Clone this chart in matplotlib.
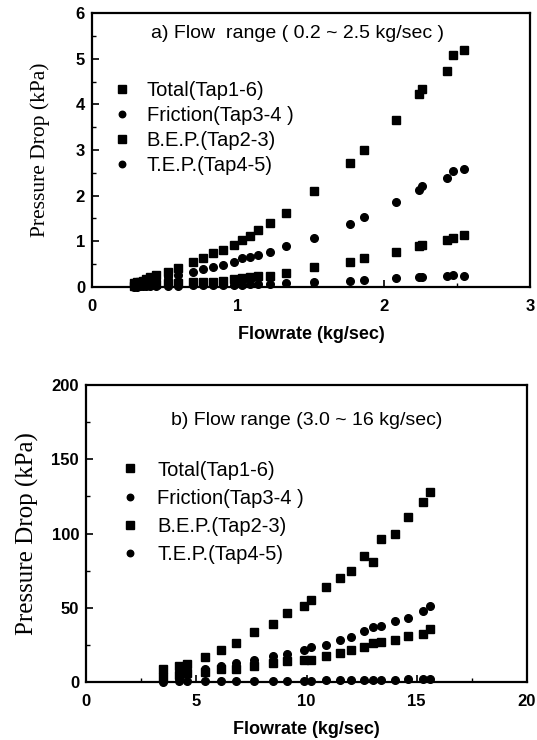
import matplotlib
matplotlib.use("Agg")
import matplotlib.pyplot as plt
from matplotlib.ticker import MultipleLocator

# ---------------- data: panel a ----------------
flow_a = [0.29, 0.31, 0.33, 0.35, 0.37, 0.40, 0.44, 0.52, 0.59, 0.69, 0.76, 0.83,
          0.90, 0.97, 1.03, 1.08, 1.14, 1.22, 1.33, 1.52, 1.77, 1.86, 2.08, 2.24,
          2.26, 2.43, 2.47, 2.55]
total_a = [0.08, 0.10, 0.12, 0.14, 0.17, 0.21, 0.26, 0.33, 0.41, 0.54, 0.64, 0.74,
           0.82, 0.92, 1.03, 1.12, 1.24, 1.40, 1.62, 2.10, 2.71, 3.01, 3.65, 4.23,
           4.34, 4.74, 5.07, 5.19]
friction_a = [0.04, 0.05, 0.06, 0.07, 0.09, 0.11, 0.16, 0.22, 0.26, 0.33, 0.39, 0.43,
              0.48, 0.55, 0.63, 0.66, 0.70, 0.77, 0.90, 1.08, 1.39, 1.54, 1.86, 2.12,
              2.21, 2.39, 2.55, 2.59]
bep_a = [0.03, 0.04, 0.05, 0.05, 0.06, 0.07, 0.07, 0.08, 0.09, 0.10, 0.11, 0.12,
         0.14, 0.17, 0.19, 0.22, 0.24, 0.24, 0.31, 0.43, 0.55, 0.63, 0.76, 0.90,
         0.92, 1.04, 1.07, 1.14]
tep_a = [0.01, 0.01, 0.02, 0.02, 0.02, 0.02, 0.03, 0.03, 0.03, 0.04, 0.04, 0.04,
         0.05, 0.05, 0.05, 0.06, 0.06, 0.07, 0.08, 0.10, 0.13, 0.16, 0.20, 0.22,
         0.22, 0.23, 0.26, 0.24]

# ---------------- data: panel b ----------------
flow_b = [3.5, 4.2, 4.6, 5.4, 6.1, 6.8, 7.6, 8.5, 9.1, 9.9, 10.2, 10.9, 11.5, 12.0,
          12.6, 13.0, 13.4, 14.0, 14.6, 15.3, 15.6]
total_b = [8.5, 11, 12, 17, 21.5, 26, 34, 39, 46.5, 51, 55, 64, 70, 75, 85, 81, 96,
           100, 111, 121, 128]
friction_b = [4.5, 6, 7, 8.5, 10.7, 13, 15, 17.5, 19, 21.5, 23.7, 25, 28.6, 30, 34.5,
              37, 38, 41, 43, 48, 51]
bep_b = [3.5, 5, 6.3, 6.5, 8.5, 9, 11, 12.5, 14.3, 14.8, 15, 17.5, 19.7, 21.5, 23.7,
         26, 27, 28.6, 31, 32.6, 36]
tep_b = [0.3, 0.4, 0.5, 0.5, 0.6, 0.7, 0.8, 0.8, 0.9, 1.0, 1.0, 1.1, 1.2, 1.2, 1.3,
         1.4, 1.4, 1.5, 1.7, 1.8, 2.0]

labels = ["Total(Tap1-6)", "Friction(Tap3-4 )", "B.E.P.(Tap2-3)", "T.E.P.(Tap4-5)"]
title_a = "a) Flow  range ( 0.2 ~ 2.5 kg/sec )"
title_b = "b) Flow range (3.0 ~ 16 kg/sec)"
xlabel = "Flowrate (kg/sec)"
ylabel = "Pressure Drop (kPa)"

SANS = "Liberation Sans"
SERIF = "Liberation Serif"

fig = plt.figure(figsize=(5.37, 7.40), dpi=100)
ax1 = fig.add_axes([92/537, 1-287/740, (530-92)/537, (287-13)/740])
ax2 = fig.add_axes([86/537, 1-682/740, (527-86)/537, (682-385)/740])


def style(ax, xmaj, xmin, ymaj, ymin, ylab_x, ylab_size):
    ax.xaxis.set_major_locator(MultipleLocator(xmaj))
    ax.xaxis.set_minor_locator(MultipleLocator(xmin))
    ax.yaxis.set_major_locator(MultipleLocator(ymaj))
    ax.yaxis.set_minor_locator(MultipleLocator(ymin))
    ax.tick_params(which="both", direction="in", top=False, right=False)
    ax.tick_params(which="major", length=5, width=1.2, labelsize=12)
    ax.tick_params(axis="x", which="major", pad=9)
    ax.tick_params(axis="y", which="major", pad=5)
    ax.tick_params(which="minor", length=3, width=1.0)
    for s in ax.spines.values():
        s.set_linewidth(1.6)
    for lab in ax.get_xticklabels() + ax.get_yticklabels():
        lab.set_fontfamily(SANS)
        lab.set_fontweight("bold")
    ax.set_xlabel(xlabel, fontfamily=SANS, fontsize=13, fontweight="bold", labelpad=8)
    ax.set_ylabel(ylabel, fontfamily=SERIF, fontsize=ylab_size)
    ax.yaxis.set_label_coords(ylab_x, 0.5)


def plot_series(ax, flow, tot, fr, bep, tep):
    ax.plot(flow, tot, "s", color="black", ms=6.3, label=labels[0], clip_on=False)
    ax.plot(flow, fr, "o", color="black", ms=5.5, label=labels[1], clip_on=False)
    ax.plot(flow, bep, "s", color="black", ms=6.3, label=labels[2], clip_on=False)
    ax.plot(flow, tep, "o", color="black", ms=5.5, label=labels[3], clip_on=False)


plot_series(ax1, flow_a, total_a, friction_a, bep_a, tep_a)
ax1.set_xlim(0, 3)
ax1.set_ylim(0, 6)
style(ax1, 1, 0.5, 1, 0.5, -0.095, 15.5)
ax1.text(0.47, 0.925, title_a, transform=ax1.transAxes, ha="center", va="center",
         fontfamily=SANS, fontsize=14)
ax1.legend(loc="upper left", bbox_to_anchor=(0.008, 0.81), frameon=False,
           handlelength=1.0, handletextpad=0.75, labelspacing=0.30, borderpad=0.3,
           prop={"family": SANS, "size": 14.5}, markerscale=0.85)

plot_series(ax2, flow_b, total_b, friction_b, bep_b, tep_b)
ax2.set_xlim(0, 20)
ax2.set_ylim(0, 200)
style(ax2, 5, 2.5, 50, 25, -0.107, 18)
ax2.text(0.50, 0.88, title_b, transform=ax2.transAxes, ha="center", va="center",
         fontfamily=SANS, fontsize=14)
ax2.legend(loc="upper left", bbox_to_anchor=(0.04, 0.80), frameon=False,
           handlelength=1.0, handletextpad=0.85, labelspacing=0.45, borderpad=0.3,
           prop={"family": SANS, "size": 14.5}, markerscale=0.85)

fig.savefig("out.png", dpi=100)
